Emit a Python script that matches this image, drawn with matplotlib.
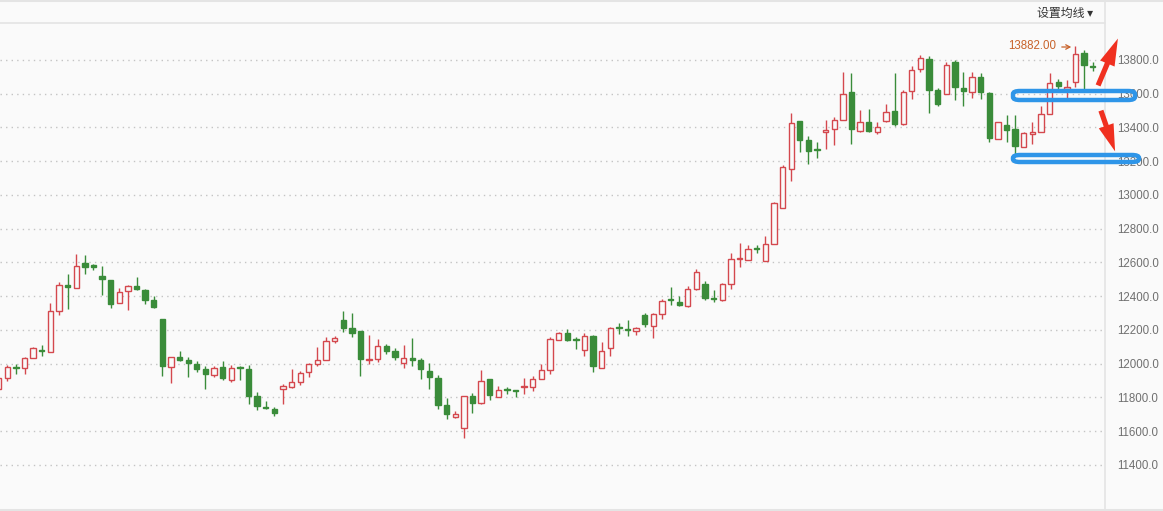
import matplotlib.pyplot as plt
from matplotlib.lines import Line2D
from matplotlib.patches import FancyBboxPatch, FancyArrowPatch

# OHLC data, one entry per candle
opens = [11850, 11916, 11983, 11976, 12035, 12083, 12070, 12312, 12468, 12448,
         12598, 12580, 12521, 12498, 12360, 12429, 12462, 12438, 12379, 12267,
         11981, 12042, 12024, 12000, 11970, 11931, 11982, 11901, 11978, 11970,
         11810, 11745, 11733, 11853, 11859, 11889, 11949, 11996, 12022, 12133,
         12261, 12214, 12192, 12020, 12026, 12107, 12077, 12004, 12036, 12024,
         11958, 11917, 11756, 11687, 11618, 11808, 11766, 11909, 11802, 11848,
         11844, 11859, 11861, 11910, 11964, 12141, 12182, 12145, 12080, 12167,
         11974, 12092, 12214, 12208, 12194, 12291, 12224, 12295, 12381, 12367,
         12340, 12442, 12475, 12390, 12380, 12473, 12620, 12614, 12681, 12608,
         12711, 12925, 13151, 13436, 13323, 13273, 13376, 13388, 13447, 13612,
         13377, 13430, 13371, 13441, 13496, 13418, 13616, 13745, 13808, 13620,
         13600, 13788, 13635, 13610, 13700, 13606, 13332, 13416, 13388, 13286,
         13359, 13373, 13482, 13667, 13626, 13667, 13843, 13763]
highs = [11920, 11993, 12001, 12037, 12100, 12111, 12362, 12482, 12533, 12651,
         12645, 12592, 12580, 12498, 12448, 12468, 12515, 12444, 12403, 12267,
         12042, 12077, 12042, 12018, 11988, 11984, 12018, 11992, 11986, 11992,
         11834, 11778, 11741, 11881, 11970, 11958, 12006, 12101, 12156, 12166,
         12315, 12303, 12196, 12172, 12147, 12119, 12095, 12113, 12154, 12036,
         12006, 11935, 11798, 11721, 11810, 11828, 11964, 11911, 11867, 11862,
         11846, 11918, 11926, 11999, 12159, 12188, 12208, 12159, 12180, 12169,
         12131, 12216, 12243, 12261, 12216, 12303, 12303, 12383, 12456, 12399,
         12458, 12563, 12493, 12438, 12480, 12654, 12713, 12701, 12701, 12755,
         12960, 13176, 13485, 13438, 13352, 13311, 13446, 13459, 13729, 13720,
         13502, 13508, 13430, 13537, 13720, 13620, 13767, 13831, 13825, 13633,
         13788, 13802, 13726, 13731, 13720, 13608, 13435, 13471, 13471, 13373,
         13432, 13529, 13720, 13686, 13682, 13882, 13859, 13786]
lows = [11840, 11897, 11938, 11938, 12033, 12044, 12068, 12287, 12322, 12446,
        12529, 12557, 12409, 12328, 12358, 12316, 12434, 12352, 12328, 11930,
        11883, 12014, 11919, 11949, 11848, 11921, 11901, 11893, 11905, 11764,
        11723, 11729, 11693, 11764, 11857, 11871, 11919, 11988, 12020, 12121,
        12186, 12156, 11929, 11996, 12012, 12059, 12020, 11972, 11988, 11907,
        11848, 11729, 11675, 11677, 11562, 11705, 11764, 11784, 11800, 11820,
        11800, 11820, 11838, 11908, 11938, 12139, 12137, 12090, 12048, 11950,
        11972, 12044, 12178, 12167, 12172, 12216, 12151, 12263, 12346, 12340,
        12338, 12436, 12375, 12365, 12370, 12442, 12572, 12612, 12654, 12606,
        12709, 12923, 13083, 13257, 13184, 13220, 13273, 13297, 13445, 13304,
        13375, 13375, 13359, 13430, 13410, 13416, 13567, 13727, 13484, 13528,
        13598, 13563, 13528, 13575, 13567, 13312, 13330, 13314, 13241, 13284,
        13304, 13371, 13480, 13620, 13561, 13637, 13624, 13733]
closes = [11915, 11981, 11977, 12035, 12094, 12078, 12312, 12466, 12454, 12578,
          12576, 12576, 12500, 12352, 12425, 12460, 12440, 12375, 12334, 11985,
          12040, 12024, 12002, 11970, 11937, 11976, 11913, 11974, 11974, 11806,
          11747, 11735, 11705, 11867, 11891, 11947, 11998, 12022, 12137, 12152,
          12210, 12180, 12026, 12030, 12105, 12075, 12038, 12034, 12020, 11966,
          11919, 11758, 11699, 11701, 11808, 11770, 11899, 11812, 11844, 11842,
          11840, 11863, 11910, 11964, 12147, 12182, 12139, 12141, 12165, 11989,
          12078, 12212, 12210, 12198, 12214, 12234, 12295, 12371, 12375, 12348,
          12442, 12545, 12392, 12386, 12475, 12622, 12624, 12681, 12677, 12711,
          12954, 13164, 13424, 13327, 13261, 13269, 13386, 13446, 13600, 13388,
          13430, 13377, 13400, 13490, 13422, 13608, 13741, 13812, 13622, 13539,
          13773, 13639, 13616, 13700, 13610, 13335, 13430, 13384, 13290, 13365,
          13375, 13480, 13663, 13647, 13639, 13835, 13769, 13759]

y_ticks = [11400, 11600, 11800, 12000, 12200, 12400, 12600, 12800,
           13000, 13200, 13400, 13600, 13800]
max_label = '13882.00'

W, H = 1163, 511
BG = '#fafafa'
RED = '#d4484e'
GREEN = '#3a8c3a'


def fx(x):
    return x / W


def fy(y):
    return 1 - y / H


fig = plt.figure(figsize=(W / 100, H / 100), dpi=100)
fig.patch.set_facecolor(BG)
ax = fig.add_axes([0, fy(510), fx(1105), fy(23) - fy(510)])
ax.set_facecolor(BG)

# candles
for i in range(len(opens)):
    o, h, l, c = opens[i], highs[i], lows[i], closes[i]
    up = c >= o
    col = RED if up else GREEN
    lo_b, hi_b = min(o, c), max(o, c)
    if hi_b - lo_b < 6:
        hi_b = lo_b + 6
    ax.vlines(i, l, h, color=col, lw=1, zorder=2)
    ax.bar(i, hi_b - lo_b, bottom=lo_b, width=0.62,
           facecolor=BG if up else col, edgecolor=col, lw=1, zorder=3)

ax.set_xlim(0.15, 128.43)
ax.set_ylim(11133, 14019)

# grid + right axis labels
for v in y_ticks:
    ax.axhline(v, color='#c4c4c4', lw=1, ls=(0, (1, 3)), zorder=1)
ax.yaxis.tick_right()
ax.set_yticks(y_ticks)
ax.set_yticklabels(['%.1f' % v for v in y_ticks], family='Liberation Sans',
                   fontsize=8.3, color='#707070')
ax.tick_params(axis='y', length=0, pad=8.5)
ax.set_xticks([])
for s in ax.spines.values():
    s.set_visible(False)

# frame lines
line_col = '#e4e4e4'
fig.add_artist(Line2D([0, 1], [fy(1), fy(1)], color=line_col, lw=1.5))
fig.add_artist(Line2D([0, fx(1105)], [fy(23), fy(23)], color=line_col, lw=1.2))
fig.add_artist(Line2D([0, 1], [fy(510), fy(510)], color=line_col, lw=1.5))
fig.add_artist(Line2D([fx(1105), fx(1105)], [fy(0), fy(511)], color=line_col, lw=1.2))

# toolbar
fig.text(fx(1037), fy(13), '设置均线 ▾', family=['Noto Sans CJK SC', 'DejaVu Sans'],
         fontsize=8.6, color='#333333', va='center', ha='left')

# highest price marker
fig.text(fx(1008), fy(46), max_label, family='Liberation Sans', fontsize=8.3,
         color='#c8622a', va='center', ha='left')
fig.add_artist(FancyArrowPatch((fx(1059), fy(47)), (fx(1074), fy(47)),
                               transform=fig.transFigure, arrowstyle='->,head_length=3,head_width=1.6',
                               color='#c8622a', lw=0.9))

# blue highlight boxes
for (x0, y0, x1, y1) in [(1013, 91, 1135, 100), (1013, 155, 1139, 162)]:
    box = FancyBboxPatch((fx(x0), fy(y1)), fx(x1 - x0), fy(y0) - fy(y1),
                         boxstyle='round,pad=0,rounding_size=0.006',
                         transform=fig.transFigure, facecolor='none',
                         edgecolor='#2e95e8', lw=3.2, zorder=10)
    fig.add_artist(box)

# red arrows
for (x0, y0, x1, y1) in [(1097, 88, 1119, 36), (1100, 108, 1116, 154)]:
    fig.add_artist(FancyArrowPatch((fx(x0), fy(y0)), (fx(x1), fy(y1)),
                                   transform=fig.transFigure,
                                   arrowstyle='simple,head_length=1.3,head_width=0.75,tail_width=0.25',
                                   mutation_scale=15, color='#f03020', lw=0, zorder=11))

fig.savefig('out.png', dpi=100, facecolor=BG)
